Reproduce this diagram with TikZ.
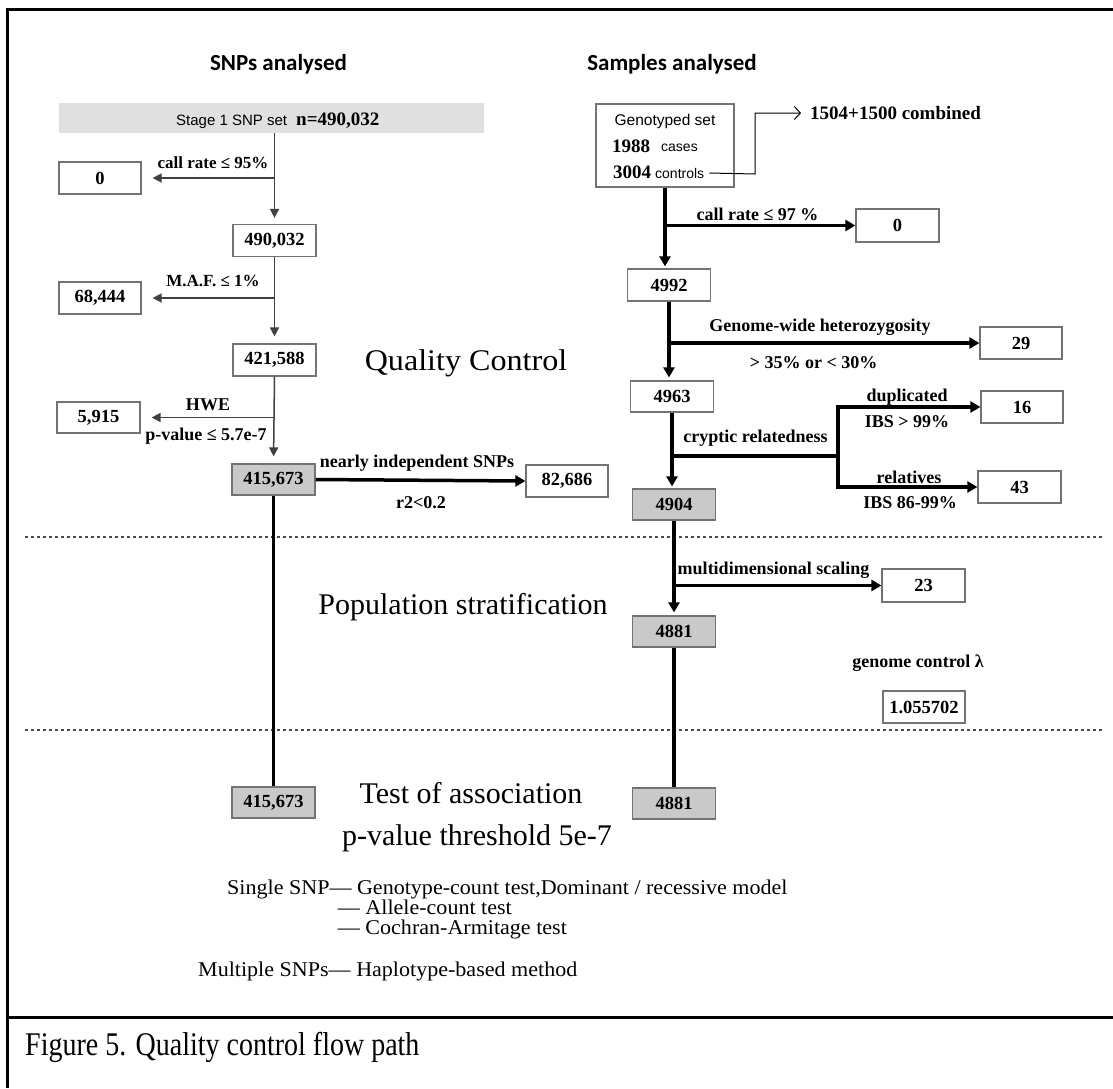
\documentclass[tikz,border=0pt]{standalone}
\usepackage{fontspec}
\setmainfont{Liberation Serif}
\newfontfamily\arialf{Liberation Sans}
\newfontfamily\calibf{Carlito}
\usetikzlibrary{arrows.meta}
\tikzset{
  box/.style={draw=black!55, line width=1.2pt, fill=white, minimum width=83pt, minimum height=32pt, inner sep=0pt, font=\fontsize{18.5}{20}\selectfont\bfseries},
  graybox/.style={box, fill=black!21},
  lab/.style={font=\fontsize{18}{19}\selectfont\bfseries, inner sep=0pt},
  smalllab/.style={font=\fontsize{17}{18}\selectfont\bfseries, inner sep=0pt},
  big/.style={font=\fontsize{30}{32}\selectfont, inner sep=0pt},
  listtxt/.style={font=\fontsize{21}{20}\selectfont, inner sep=0pt, anchor=base west},
  head/.style={font=\calibf\bfseries\fontsize{23}{25}\selectfont, inner sep=0pt, anchor=base},
  numtxt/.style={font=\fontsize{19}{20}\selectfont\bfseries, inner sep=0pt},
  thinline/.style={line width=1.5pt, draw=black!75},
  thickline/.style={line width=3.5pt, draw=black},
  tipthin/.style={-{Triangle[length=9pt,width=9pt]}},
  tipthick/.style={-{Triangle[length=10pt,width=11pt]}},
  sep/.style={line width=1.8pt, draw=black!70, dash pattern=on 3pt off 3pt},
  frame/.style={line width=3pt, draw=black}
}
\begin{document}
\begin{tikzpicture}[x=1pt,y=-1pt]
\useasboundingbox (0,0) rectangle (1113,1088);
% frame
\draw[frame] (1113,9) -- (7,9) -- (7,1088);
\draw[frame] (7,1017) -- (1113,1017);
% dotted separators
\draw[sep] (25,537) -- (1103,537);
\draw[sep] (25,730) -- (1103,730);
% headings
\node[head] (h1) at (278.5,70) {SNPs analysed};
\node[head] (h2) at (672,70) {Samples analysed};
% ---------- left column ----------
\node[fill=black!12, minimum width=425pt, minimum height=30pt, inner sep=0pt] (stage) at (271.5,118) {};
\node[anchor=base west, inner sep=0pt, font=\arialf\fontsize{15}{16}\selectfont] (stxt) at (176,125) {Stage 1 SNP set};
\node[anchor=base west, numtxt] (ntxt) at (296,125) {n=490,032};
\node[box] (b490) at (274.5,240.5) {490,032};
\node[box, minimum width=82pt] (b0L) at (100,178) {0};
\node[box, minimum width=82pt] (b68) at (100,298) {68,444};
\node[box] (b421) at (274.5,360) {421,588};
\node[box, minimum height=31pt] (b5915) at (98.5,417.5) {5,915};
\node[graybox, minimum height=31pt] (b415) at (273.5,479.5) {415,673};
\node[box, minimum width=82pt] (b826) at (567,481) {82,686};
\node[graybox, minimum height=31pt] (b415b) at (273.5,802.5) {415,673};

\draw[thinline, tipthin, shorten >=6pt] (stage.south -| b490.north) -- (b490.north);
\draw[thinline, tipthin, shorten >=11pt] (b490.north |- b0L.east) -- (b0L.east);
\draw[thinline, tipthin, shorten >=7pt] (b490.south) -- (b421.north);
\draw[thinline, tipthin, shorten >=11pt] (b490.south |- b68.east) -- (b68.east);
\draw[thinline, tipthin, shorten >=7pt] (b421.south) -- (b415.north);
\draw[thinline, tipthin, shorten >=11pt] (b421.south |- b5915.east) -- (b5915.east);
\draw[thickline, tipthick] (b415.east) -- (b826.west);
\draw[thickline] (b415.south) -- (b415b.north);

\node[smalllab] (l1) at (213,163) {call rate ≤ 95\%};
\node[smalllab] (l2) at (213,281) {M.A.F. ≤ 1\%};
\node[lab] (l3) at (208,405) {HWE};
\node[lab] (l4) at (206,436) {p-value ≤ 5.7e-7};
\node[lab] (l5) at (417,463) {nearly independent SNPs};
\node[lab] (l6) at (421,503) {r2<0.2};
% ---------- right column ----------
\node[draw=black!55, line width=1.2pt, minimum width=138pt, minimum height=83pt, inner sep=0pt] (gset) at (665,145.5) {};
\node[inner sep=0pt, font=\arialf\fontsize{15.5}{17}\selectfont] (gtxt) at (665,121) {Genotyped set};
\node[anchor=base west, numtxt] (n1988) at (612,152) {1988};
\node[anchor=base west, inner sep=0pt, font=\arialf\fontsize{14}{15}\selectfont] (cases) at (661,151) {cases};
\node[anchor=base west, numtxt] (n3004) at (613,178) {3004};
\node[anchor=base west, inner sep=0pt, font=\arialf\fontsize{14}{15}\selectfont] (ctrl) at (655,178) {controls};
\node[anchor=west, numtxt] (comb) at (810,113) {1504+1500 combined};
\draw[line width=1pt, -{Straight Barb[length=6pt,width=13pt]}, shorten >=9pt] ([xshift=5pt]ctrl.east) -- (755,174) |- (comb.west);

\node[box] (b4992) at (669,285) {4992};
\node[box, minimum height=33pt] (b0R) at (897.5,225.5) {0};
\node[box, minimum width=82pt] (b29) at (1021,343) {29};
\node[box, minimum height=31pt] (b4963) at (672,396.5) {4963};
\node[box, minimum width=82pt] (b16) at (1022,407) {16};
\node[box] (b43) at (1019.5,487) {43};
\node[graybox, minimum height=31pt] (b4904) at (674,504.5) {4904};
\node[box, minimum height=33pt] (b23) at (923.5,585.5) {23};
\node[graybox, minimum height=31pt] (b4881) at (674,631.5) {4881};
\node[graybox, minimum height=31pt] (b4881b) at (674,803.5) {4881};
\node[box, minimum width=82pt] (b1055) at (924,707) {1.055702};
\coordinate (cr) at (838,456);

\draw[thickline, tipthick, shorten >=2pt] (gset.south) -- (gset.south |- b4992.north);
\draw[thickline, tipthick] (gset.south |- b0R.west) -- (b0R.west);
\draw[thickline, tipthick, shorten >=3pt] (b4992.south) -- (b4992.south |- b4963.north);
\draw[thickline, tipthick] (b4992.south |- b29.west) -- (b29.west);
\draw[thickline, tipthick, shorten >=2pt] (b4963.south) -- (b4963.south |- b4904.north);
\draw[thickline, tipthick] (b4963.south |- cr) -- (cr) |- (b16.west);
\draw[thickline, tipthick] (cr) |- (b43.west);
\draw[thickline, tipthick, shorten >=3pt] (b4904.south) -- (b4881.north);
\draw[thickline, tipthick] (b4904.south |- b23.west) -- (b23.west);
\draw[thickline] (b4881.south) -- (b4881b.north);

\node[lab] (r1) at (757.5,214) {call rate ≤ 97 \%};
\node[lab] (r2) at (820,327) {Genome-wide heterozygosity};
\node[lab] (r3) at (813.5,363) {> 35\% or < 30\%};
\node[lab] (r4) at (755.5,438) {cryptic relatedness};
\node[lab] (r5) at (907,397) {duplicated};
\node[lab] (r6) at (907,422) {IBS > 99\%};
\node[lab] (r7) at (909,477) {relatives};
\node[lab] (r8) at (910,503) {IBS 86-99\%};
\node[lab] (r9) at (773.5,570) {multidimensional scaling};
\node[lab] (r10) at (918,663) {genome control λ};
% ---------- section titles ----------
\node[big] (t1) at (466,363) {\scalebox{1.07}[1]{Quality Control}};
\node[big] (t2) at (463,607) {Population stratification};
\node[big] (t3) at (471,793) {Test of association};
\node[big] (t4) at (477,838) {p-value threshold 5e-7};
% ---------- tests ----------
\node[listtxt] (s1) at (227,894) {\scalebox{1.05}[1]{Single SNP— Genotype-count test,Dominant / recessive model}};
\node[listtxt] (s2) at (227,914) {\scalebox{1.05}[1]{\hphantom{Single SNP}\hspace{8pt}— Allele-count test}};
\node[listtxt] (s3) at (227,934) {\scalebox{1.05}[1]{\hphantom{Single SNP}\hspace{8pt}— Cochran-Armitage test}};
\node[listtxt] (s4) at (198,976) {\scalebox{1.05}[1]{Multiple SNPs— Haplotype-based method}};
% caption
\node[anchor=base west, inner sep=0pt, font=\fontsize{28}{30}\selectfont] (cap) at (25,1055) {\scalebox{1}[1.18]{Figure 5. Quality control flow path}};
\end{tikzpicture}
\end{document}
